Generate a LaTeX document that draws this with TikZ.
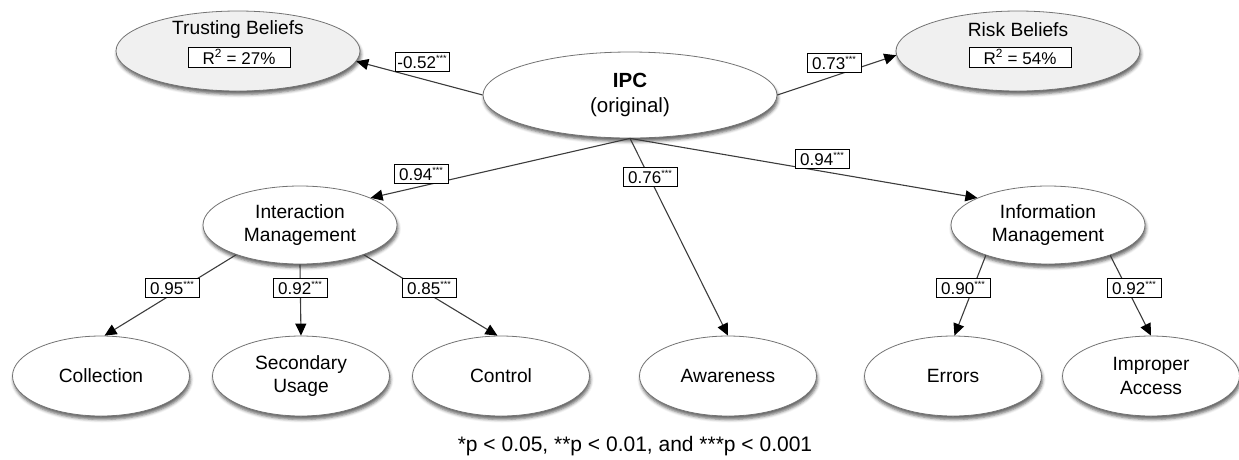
\documentclass[tikz,border=0pt]{standalone}
\usepackage{fontspec}
\setmainfont{Liberation Sans}
\usetikzlibrary{arrows.meta,shapes.geometric,shadows.blur}
\definecolor{lightfill}{RGB}{240,240,240}
\definecolor{edgegray}{RGB}{60,60,60}
\newcommand\sigstars{\raisebox{0.7ex}{\fontsize{9}{9}\selectfont ***}}
\begin{document}
\begin{tikzpicture}[x=1pt,y=-1pt,
  ell/.style={ellipse, draw=black!55, line width=0.8pt, fill=white, inner sep=0pt, align=center,
    font=\fontsize{19.2}{23.5}\selectfont,
    blur shadow={shadow xshift=1pt, shadow yshift=-3.5pt, shadow blur radius=3pt, shadow opacity=60}},
  leaf/.style={ell, minimum width=177pt, minimum height=80pt},
  mid/.style={ell, minimum width=194pt, minimum height=78pt},
  outc/.style={ell, fill=lightfill, minimum width=244pt, minimum height=80pt},
  arr/.style={draw=edgegray, line width=1.1pt, -{Triangle[length=12pt,width=11pt,color=black]}},
  lab/.style={draw=black, line width=0.7pt, fill=white, inner sep=1pt, minimum height=18.5pt, minimum width=54pt,
    font=\fontsize{17}{18}\selectfont},
  rbox/.style={draw=black, line width=0.7pt, fill=white, inner sep=1pt, minimum height=20pt, minimum width=102pt,
    font=\fontsize{17}{18}\selectfont},
  ttl/.style={font=\fontsize{19.2}{23.5}\selectfont, inner sep=0pt}
]
\useasboundingbox (0,0) rectangle (1239,459);

% outcome constructs
\node[outc] (TB) at (238,51) {};
\node[ttl] (TBt) at (238,30) {Trusting Beliefs};
\node[rbox] (TBr) at (239,57) {R\textsuperscript{2} = 27\%};
\node[outc] (RB) at (1018,51) {};
\node[ttl] (RBt) at (1018,30) {Risk Beliefs};
\node[rbox] (RBr) at (1020,57) {R\textsuperscript{2} = 54\%};

% IPC
\node[ell, minimum width=294pt, minimum height=86pt, font=\fontsize{20.5}{25.5}\selectfont] (IPC) at (630,95)
  {\textbf{IPC}\\(original)};

% second-order dimensions
\node[mid] (IM) at (300,225) {Interaction\\Management};
\node[mid] (INF) at (1048,225) {Information\\Management};

% first-order dimensions
\node[leaf] (COL) at (101,376) {Collection};
\node[leaf] (SU) at (301,376) {Secondary\\Usage};
\node[leaf] (CON) at (501,376) {Control};
\node[leaf] (AW) at (728,376) {Awareness};
\node[leaf] (ERR) at (953,376) {Errors};
\node[leaf] (IA) at (1151,376) {Improper\\Access};

% connectors
\draw[arr] (IPC.west) -- (TB.355);
\draw[arr] (IPC.east) -- (RB.182);
\draw[arr] (IPC.south) -- (IM.21);
\draw[arr] (IPC.south) -- (AW.north);
\draw[arr] (IPC.south) -- (INF.159);
\draw[arr] (IM.205) -- (COL.85);
\draw[arr] (IM.south) -- (SU.north);
\draw[arr] (IM.335) -- (CON.95);
\draw[arr] (INF.206) -- (ERR.88);
\draw[arr] (INF.334) -- (IA.north);

% path coefficients
\node[lab] (l1) at (422,62) {-0.52\sigstars};
\node[lab] (l2) at (834,63) {0.73\sigstars};
\node[lab] (l3) at (421,174) {0.94\sigstars};
\node[lab] (l4) at (650,177) {0.76\sigstars};
\node[lab] (l5) at (822,159) {0.94\sigstars};
\node[lab] (l6) at (172,288) {0.95\sigstars};
\node[lab] (l7) at (300,288) {0.92\sigstars};
\node[lab] (l8) at (429,288) {0.85\sigstars};
\node[lab] (l9) at (963,288) {0.90\sigstars};
\node[lab] (l10) at (1134,288) {0.92\sigstars};

% footnote
\node[font=\fontsize{21}{24}\selectfont, inner sep=0pt] (foot) at (635,446)
  {*p < 0.05, **p < 0.01, and ***p < 0.001};
\end{tikzpicture}
\end{document}
